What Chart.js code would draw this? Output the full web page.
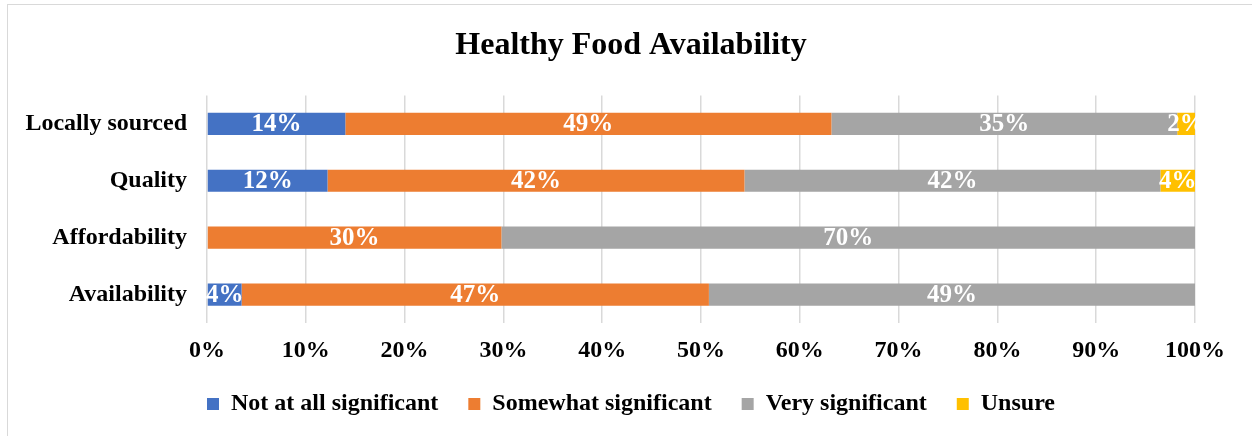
<!DOCTYPE html>
<html>
<head>
<meta charset="utf-8">
<script src="https://cdn.jsdelivr.net/npm/chart.js@4.4.1/dist/chart.umd.min.js"></script>
<style>
  html, body { margin: 0; padding: 0; background: #fff; overflow: hidden; }
  #wrap { position: relative; width: 1252px; height: 436px; }
  #frame { position: absolute; left: 7px; top: 4px; width: 1300px; height: 500px; border: 1px solid #d9d9d9; box-sizing: border-box; }
  canvas { position: absolute; left: 0; top: 0; }
</style>
</head>
<body>
<div id="wrap">
  <div id="frame"></div>
  <canvas id="chart" width="1252" height="436"></canvas>
</div>
<script>
// 数据
const categories = ['Locally sourced', 'Quality', 'Affordability', 'Availability'];
const seriesNames = ['Not at all significant', 'Somewhat significant', 'Very significant', 'Unsure'];
const notAtAll = [14.0, 12.2, 0, 3.5];
const somewhat = [49.2, 42.2, 29.8, 47.3];
const very = [35.0, 42.1, 70.2, 49.2];
const unsure = [1.8, 3.5, 0, 0];
const xTicks = [0, 10, 20, 30, 40, 50, 60, 70, 80, 90, 100];

const colors = ['#4472C4', '#ED7D31', '#A5A5A5', '#FFC000'];
const FONT = "'Liberation Serif', 'Times New Roman', serif";

// 段内百分比标签
const barLabels = {
  id: 'barLabels',
  afterDatasetsDraw(chart) {
    const { ctx } = chart;
    ctx.save();
    ctx.fillStyle = '#fff';
    ctx.font = 'bold 25px ' + FONT;
    ctx.textAlign = 'center';
    ctx.textBaseline = 'middle';
    chart.data.datasets.forEach((ds, i) => {
      const meta = chart.getDatasetMeta(i);
      meta.data.forEach((bar, j) => {
        const v = ds.data[j];
        if (!v) return;
        const cx = (bar.x + bar.base) / 2;
        ctx.fillText(Math.round(v) + '%', cx, bar.y + 1);
      });
    });
    ctx.restore();
  }
};

const vals = [notAtAll, somewhat, very, unsure];

new Chart(document.getElementById('chart'), {
  type: 'bar',
  data: {
    labels: categories,
    datasets: seriesNames.map((name, i) => ({
      label: name,
      data: vals[i],
      backgroundColor: colors[i],
      borderWidth: 0,
      barPercentage: 0.39,
      categoryPercentage: 1.0
    }))
  },
  plugins: [barLabels],
  options: {
    indexAxis: 'y',
    responsive: false,
    animation: false,
    layout: { padding: { top: 27, left: 10, right: 0, bottom: 10 } },
    scales: {
      x: {
        stacked: true,
        min: 0,
        max: 100,
        afterBuildTicks(axis) { axis.ticks = xTicks.map(v => ({ value: v })); },
        // 右侧留白放在坐标轴上，标题和图例仍按整个画布居中
        afterFit(axis) { axis.height = 39; axis.paddingRight = 57; },
        grid: { color: '#d9d9d9', lineWidth: 1.5, drawTicks: false },
        border: { display: false },
        ticks: {
          color: '#000',
          padding: 13,
          font: { family: FONT, size: 24, weight: 'bold' },
          callback: v => v + '%',
          maxRotation: 0
        }
      },
      y: {
        stacked: true,
        afterFit(axis) { axis.width = 197; },
        grid: { display: false, drawTicks: false },
        border: { display: false },
        ticks: {
          color: '#000',
          padding: 20,
          font: { family: FONT, size: 24, weight: 'bold' }
        }
      }
    },
    plugins: {
      title: {
        display: true,
        text: 'Healthy Food Availability',
        color: '#000',
        font: { family: FONT, size: 32, weight: 'bold' },
        padding: { top: 0, bottom: 30 }
      },
      legend: {
        position: 'bottom',
        labels: {
          color: '#000',
          boxWidth: 12,
          boxHeight: 12,
          padding: 30,
          font: { family: FONT, size: 24, weight: 'bold' }
        }
      },
      tooltip: { enabled: false }
    }
  }
});
</script>
</body>
</html>
